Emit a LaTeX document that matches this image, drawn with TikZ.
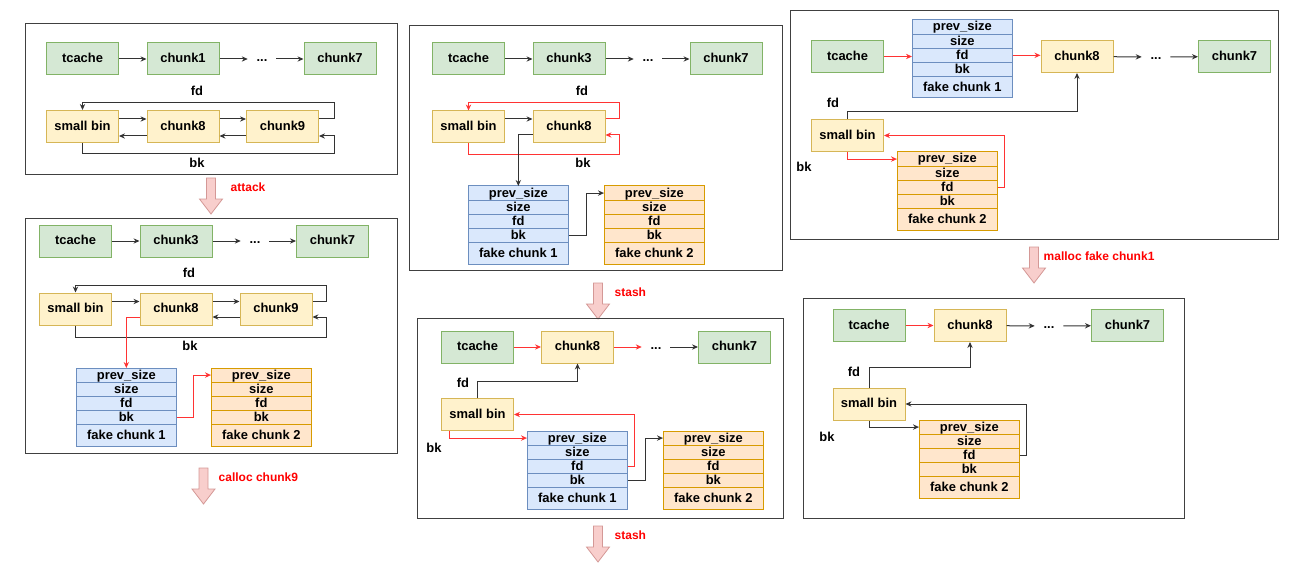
\documentclass[tikz,border=0pt]{standalone}
\usepackage{fontspec}
\setmainfont{Liberation Sans}
\usepackage{xcolor}
\usepackage{tikz}
\usetikzlibrary{arrows.meta,positioning,calc}

\definecolor{tgreen}{HTML}{D5E8D4}
\definecolor{tgreenline}{HTML}{82B366}
\definecolor{byellow}{HTML}{FFF2CC}
\definecolor{byellowline}{HTML}{D6B656}
\definecolor{fblue}{HTML}{DAE8FC}
\definecolor{fblueline}{HTML}{6C8EBF}
\definecolor{forange}{HTML}{FFE6CC}
\definecolor{forangeline}{HTML}{D79B00}
\definecolor{stepfill}{HTML}{F8CECC}
\definecolor{stepline}{HTML}{B85450}
\definecolor{hot}{HTML}{FF3333}

\tikzset{
  every node/.style={font=\fontsize{9.7}{11}\selectfont\bfseries,text height=6.9pt,text depth=1pt},
  chunkbox/.style={draw,line width=0.75pt,minimum width=54pt,minimum height=24pt,inner sep=0pt},
  tbox/.style={chunkbox,fill=tgreen,draw=tgreenline},
  sbox/.style={chunkbox,fill=byellow,draw=byellowline},
  row/.style={draw,line width=0.75pt,minimum width=75.5pt,minimum height=10.6pt,inner sep=0pt,outer sep=0pt},
  bluerow/.style={row,fill=fblue,draw=fblueline},
  orangerow/.style={row,fill=forange,draw=forangeline},
  dots/.style={minimum width=21pt,inner sep=0pt,text height=4pt,text depth=0pt},
  link/.style={draw=black!80,line width=0.75pt,-{Stealth[length=4.5pt,width=4pt]}},
  hotlink/.style={link,draw=hot},
  panel/.style={draw=black!75,line width=0.75pt},
  steplabel/.style={text=red,font=\fontsize{9}{11}\selectfont\bfseries,anchor=west},
  fatdown/.pic={\filldraw[fill=stepfill,draw=stepline!60,line width=0.6pt]
    (-4.5,0) -- (4.5,0) -- (4.5,21) -- (11.5,21) -- (0,36) -- (-11.5,21) -- (-4.5,21) -- cycle;}
}

% one fake chunk: name, top left corner, row style, last label
\newcommand{\fakechunk}[4]{%
  \node[#3,anchor=north west] (#1p) at (#2) {prev\_size};
  \node[#3,below=0pt of #1p] (#1s) {size};
  \node[#3,below=0pt of #1s] (#1f) {fd};
  \node[#3,below=0pt of #1f] (#1b) {bk};
  \node[#3,below=0pt of #1b,minimum height=16.1pt] (#1n) {#4};
}

\begin{document}
\begin{tikzpicture}[x=0.75pt,y=-0.75pt]
	\useasboundingbox (0,0) rectangle (1306,574);
	
	% panel 1: start
	\draw[panel] (25,24) rectangle (397,175);
	\node[tbox] (tc1) at (82.5,59) {tcache};
	\node[tbox] (ca1) at (183,59) {chunk1};
	\node[dots] (dt1) at (262,59) {...};
	\node[tbox] (cg1) at (340,59) {chunk7};
	\node[sbox] (sb1) at (82.5,126.5) {small bin};
	\node[sbox] (ch1) at (183,126.5) {chunk8};
	\node[sbox] (ci1) at (282.5,126.5) {chunk9};
	\node (fd1) at (197,92) {fd};
	\node (bk1) at (197,164) {bk};
	
	\draw[link] (tc1) -- (ca1);
	\draw[link] (ca1) -- (dt1);
	\draw[link] (dt1) -- (cg1);
	\draw[link] ($(sb1.east)+(0,-7.5)$) -- ($(ch1.west)+(0,-7.5)$);
	\draw[link] ($(ch1.east)+(0,-7.5)$) -- ($(ci1.west)+(0,-7.5)$);
	\draw[link] ($(ch1.west)+(0,9.5)$) -- ($(sb1.east)+(0,9.5)$);
	\draw[link] ($(ci1.west)+(0,9.5)$) -- ($(ch1.east)+(0,9.5)$);
	\draw[link] ($(ci1.east)+(0,-7.5)$) -- ++(15,0) |- ($(sb1.north)+(0,-7)$) -- (sb1.north);
	\draw[link] (sb1.south) -- ++(0,11) -| ($(ci1.east)+(15,9.5)$) -- ($(ci1.east)+(0,9.5)$);
	
	\pic at (211,178) {fatdown};
	\node[steplabel] (st1) at (226,188) {attack};
	
	% panel 2: after attack
	\draw[panel] (25,218) rectangle (397,453);
	\node[tbox] (tc2) at (75.5,241) {tcache};
	\node[tbox] (ca2) at (176,241) {chunk3};
	\node[dots] (dt2) at (255,241) {...};
	\node[tbox] (cg2) at (332.5,241) {chunk7};
	\node[sbox] (sb2) at (75.5,309) {small bin};
	\node[sbox] (ch2) at (176,309) {chunk8};
	\node[sbox] (ci2) at (276,309) {chunk9};
	\node (fd2) at (189,274) {fd};
	\node (bk2) at (190,347) {bk};
	\fakechunk{fa2}{76,368}{bluerow}{fake chunk 1}
	\fakechunk{fb2}{211,368}{orangerow}{fake chunk 2}
	
	\draw[link] (tc2) -- (ca2);
	\draw[link] (ca2) -- (dt2);
	\draw[link] (dt2) -- (cg2);
	\draw[link] ($(sb2.east)+(0,-7.5)$) -- ($(ch2.west)+(0,-7.5)$);
	\draw[link] ($(ch2.east)+(0,-7.5)$) -- ($(ci2.west)+(0,-7.5)$);
	\draw[link] ($(ci2.west)+(0,8)$) -- ($(ch2.east)+(0,8)$);
	\draw[link] ($(ci2.east)+(0,-7.5)$) -- ++(14,0) |- ($(sb2.north)+(0,-7)$) -- (sb2.north);
	\draw[link] (sb2.south) -- ++(0,12) -| ($(ci2.east)+(14,8)$) -- ($(ci2.east)+(0,8)$);
	\draw[hotlink] ($(ch2.west)+(0,8)$) -| (fa2p.north);
	\draw[hotlink] (fa2b.east) -- ++(17,0) |- (fb2p.west);
	
	\pic at (203.5,468) {fatdown};
	\node[steplabel] (st2) at (214,478) {calloc chunk9};
	
	% panel 3: after calloc
	\draw[panel] (409,26) rectangle (782,270);
	\node[tbox] (tc3) at (468.5,59) {tcache};
	\node[tbox] (ca3) at (569,59) {chunk3};
	\node[dots] (dt3) at (648,59) {...};
	\node[tbox] (cg3) at (726,59) {chunk7};
	\node[sbox] (sb3) at (468.5,127) {small bin};
	\node[sbox] (ch3) at (569,127) {chunk8};
	\node (fd3) at (582,92) {fd};
	\node (bk3) at (583,164) {bk};
	\fakechunk{fa3}{468,186}{bluerow}{fake chunk 1}
	\fakechunk{fb3}{604,186}{orangerow}{fake chunk 2}
	
	\draw[link] (tc3) -- (ca3);
	\draw[link] (ca3) -- (dt3);
	\draw[link] (dt3) -- (cg3);
	\draw[link] ($(sb3.east)+(0,-8)$) -- ($(ch3.west)+(0,-8)$);
	\draw[hotlink] ($(ch3.east)+(0,-8)$) -- ++(14,0) |- ($(sb3.north)+(0,-8)$) -- (sb3.north);
	\draw[hotlink] (sb3.south) -- ++(0,11) -| ($(ch3.east)+(14,8)$) -- ($(ch3.east)+(0,8)$);
	\draw[link] ($(ch3.west)+(0,8)$) -| (fa3p.north);
	\draw[link] (fa3b.east) -- ++(18,0) |- (fb3p.west);
	
	\pic at (598,283) {fatdown};
	\node[steplabel] (st3) at (610,293) {stash};
	
	% panel 4: after stash
	\draw[panel] (417,318) rectangle (783,518);
	\node[tbox] (tc4) at (477.5,347) {tcache};
	\node[sbox] (ch4) at (577.5,347) {chunk8};
	\node[dots] (dt4) at (656,347) {...};
	\node[tbox] (cg4) at (734.5,347) {chunk7};
	\node[sbox] (sb4) at (477.5,414.5) {small bin};
	\node (fd4) at (463,384) {fd};
	\node (bk4) at (434,449) {bk};
	\fakechunk{fa4}{527,431}{bluerow}{fake chunk 1}
	\fakechunk{fb4}{663,431}{orangerow}{fake chunk 2}
	
	\draw[hotlink] (tc4) -- (ch4);
	\draw[hotlink] (ch4) -- (dt4);
	\draw[link] (dt4) -- (cg4);
	\draw[link] (sb4.north) -- ++(0,-17) -| (ch4.south);
	\draw[hotlink] (fa4f.east) -- ++(7,0) |- (sb4.east);
	\draw[hotlink] ($(sb4.south)+(-28.5,0)$) |- (fa4p.west);
	\draw[link] (fa4b.east) -- ++(18,0) |- (fb4p.west);
	
	\pic at (598,526) {fatdown};
	\node[steplabel] (st4) at (610,536) {stash};
	
	% panel 5: after second stash
	\draw[panel] (790,11) rectangle (1278,239);
	\node[tbox] (tc5) at (847.5,56.5) {tcache};
	\node[sbox] (ch5) at (1077,56.5) {chunk8};
	\node[dots] (dt5) at (1156,57) {...};
	\node[tbox] (cg5) at (1234.5,56.5) {chunk7};
	\node[sbox] (sb5) at (847.5,135.5) {small bin};
	\node (fd5) at (833,104) {fd};
	\node (bk5) at (804,168) {bk};
	\fakechunk{fa5}{912,20}{bluerow}{fake chunk 1}
	\fakechunk{fb5}{897,152}{orangerow}{fake chunk 2}
	
	\draw[hotlink] (tc5.east) -- (tc5.east -| fa5f.west);
	\draw[hotlink] (fa5f.east) -- (fa5f.east -| ch5.west);
	\draw[link] (ch5) -- (dt5);
	\draw[link] (dt5) -- (cg5);
	\draw[link] (sb5.north) -- ++(0,-7) -| (ch5.south);
	\draw[hotlink] (fb5f.east) -- ++(7,0) |- (sb5.east);
	\draw[hotlink] (sb5.south) |- (fb5p.west);
	
	\pic at (1034,247) {fatdown};
	\node[steplabel] (st5) at (1039,257) {malloc fake chunk1};
	
	% panel 6: after malloc
	\draw[panel] (803,298) rectangle (1184,518);
	\node[tbox] (tc6) at (869,325.5) {tcache};
	\node[sbox] (ch6) at (970,325.5) {chunk8};
	\node[dots] (dt6) at (1049,326) {...};
	\node[tbox] (cg6) at (1127.5,325.5) {chunk7};
	\node[sbox] (sb6) at (869,404) {small bin};
	\node (fd6) at (854,373) {fd};
	\node (bk6) at (827,438) {bk};
	\fakechunk{fb6}{919,420}{orangerow}{fake chunk 2}
	
	\draw[hotlink] (tc6) -- (ch6);
	\draw[link] (ch6) -- (dt6);
	\draw[link] (dt6) -- (cg6);
	\draw[link] (sb6.north) -- ++(0,-20) -| (ch6.south);
	\draw[link] (fb6f.east) -- ++(7,0) |- (sb6.east);
	\draw[link] (sb6.south) |- (fb6p.west);
\end{tikzpicture}
\end{document}
